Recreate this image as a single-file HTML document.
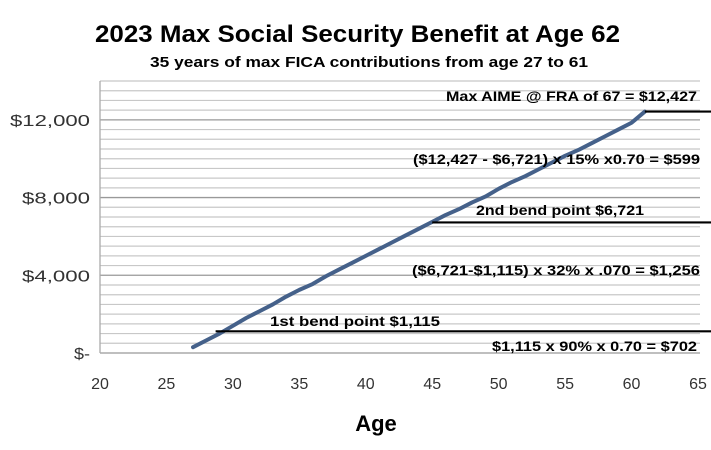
<!DOCTYPE html>
<html><head><meta charset="utf-8"><style>
body{margin:0;background:#fff;width:711px;height:445px;overflow:hidden;font-family:"Liberation Sans",sans-serif}
</style></head><body>
<svg id="c" width="711" height="445">
<text x="95" y="42" font-size="24" font-weight="bold" fill="#000" textLength="525" lengthAdjust="spacingAndGlyphs">2023  Max Social Security Benefit at Age 62</text>
<text x="150" y="67" font-size="15" font-weight="bold" fill="#000" textLength="438" lengthAdjust="spacingAndGlyphs">35 years of max FICA contributions from age 27 to 61</text>
<text x="376" y="431" font-size="22" font-weight="bold" text-anchor="middle" fill="#000">Age</text>
<g id="grid"></g><g id="ticks"></g><g id="marks"></g><g id="notes"></g>
</svg>
<script>
const ages=[27,28,29,30,31,32,33,34,35,36,37,38,39,40,41,42,43,44,45,46,47,48,49,50,51,52,53,54,55,56,57,58,59,60,61];
const benefit=[300,650,1000,1400,1800,2150,2500,2900,3250,3550,3950,4300,4650,5000,5350,5700,6050,6400,6750,7100,7400,7750,8050,8450,8800,9100,9450,9800,10150,10450,10800,11150,11500,11850,12427];
const xTicks=[20,25,30,35,40,45,50,55,60,65];
const yTicks=[0,4000,8000,12000];
const yTickLabels=["$-","$4,000","$8,000","$12,000"];
const bendValues=[1115,6721,12427];
const bendAges=[28.7,45,61];
const NS="http://www.w3.org/2000/svg";
const X0=100,X1=698,Y0=353,Y1=81;
const x=v=>X0+(v-20)/45*(X1-X0);
const y=v=>Y0-v/14000*(Y0-Y1);
function mk(t,a,p){const e=document.createElementNS(NS,t);for(const k in a)e.setAttribute(k,a[k]);document.getElementById(p).appendChild(e);return e;}
for(let v=0;v<=14000;v+=500){
 const major=v%4000===0;
 const l=mk('line',{x1:X0,x2:700,y1:y(v),y2:y(v),stroke:major?'#999':'#c8c8c8','stroke-width':major?1.3:1.2},'grid');
 
 
}
const ax=mk('line',{x1:X0,x2:X0,y1:Y1,y2:Y0,stroke:'#aaa','stroke-width':1.3},'grid');


const yLabelW=[16,68,68,80];
yTicks.forEach((v,i)=>{const t=mk('text',{x:90-yLabelW[i],y:y(v)+6,'font-size':16,fill:'#333',textLength:yLabelW[i],lengthAdjust:'spacingAndGlyphs'},'ticks');t.textContent=yTickLabels[i];
 
 });
xTicks.forEach(v=>{const t=mk('text',{x:x(v),y:389,'font-size':16,'text-anchor':'middle',fill:'#333'},'ticks');t.textContent=v;
 
 });
const line=mk('polyline',{points:ages.map((a,i)=>x(a)+','+y(benefit[i])).join(' '),fill:'none',stroke:'#45618a','stroke-width':4,'stroke-linejoin':'round','stroke-linecap':'round'},'marks');


bendValues.forEach((v,i)=>{const l=mk('line',{x1:x(bendAges[i]),x2:711,y1:y(v),y2:y(v),stroke:'#000','stroke-width':2.2},'marks');
 
 });
const notes=[["Max AIME @ FRA of 67 = $12,427",446,101,251],["($12,427 - $6,721) x 15% x0.70 = $599",413,164,287],["2nd bend point $6,721",476,215,168],["($6,721-$1,115) x 32% x .070 = $1,256",412,275,288],["1st bend point $1,115",270,326,170],["$1,115 x 90% x 0.70 = $702",492,351,205]];
notes.forEach(n=>{const t=mk('text',{x:n[1],y:n[2],'font-size':14,'font-weight':'bold',fill:'#000',textLength:n[3],lengthAdjust:'spacingAndGlyphs'},'notes');t.textContent=n[0];
 
 });
</script>
</body></html>
